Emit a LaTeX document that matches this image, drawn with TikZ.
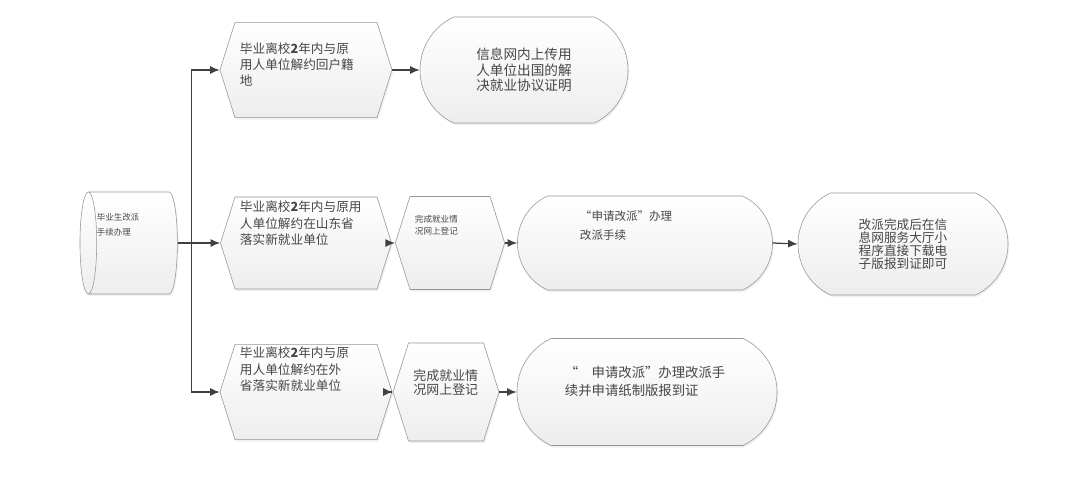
\documentclass[tikz,border=0pt]{standalone}
\usepackage{fontspec}
\usepackage{xcolor}
\usepackage{tikz}
\usetikzlibrary{shapes.geometric, shapes.symbols, shapes.misc, arrows.meta, shadows}
\newfontfamily\cjk{Noto Sans CJK SC}
\definecolor{boxline}{RGB}{150,150,150}
\definecolor{boxtext}{RGB}{70,70,70}

\begin{document}
\begin{tikzpicture}[
    x=0.025cm, y=-0.025cm,
    shaded/.style={draw=boxline, top color=white, bottom color=gray!14, drop shadow={opacity=0.12, shadow xshift=0.03cm, shadow yshift=-0.05cm}, text=boxtext},
    hexbox/.style={shaded, signal, signal to=east and west, signal pointer angle=145, inner xsep=0.125cm, inner ysep=0pt, align=left},
    termbox/.style={shaded, rounded rectangle, rounded rectangle arc length=130, inner sep=0pt},
    startbox/.style={shaded, cylinder, shape border rotate=180, aspect=0.18, inner sep=0pt, align=left},
    textpos/.style n args={3}{text width=#1, text height=#2, text depth=#3},
    flow/.style={-{Latex[length=2.4mm, width=2mm]}, draw=black!75, line width=0.9pt}
]
    \useasboundingbox (0,0) rectangle (1080,486);

    % Start
    \node[startbox, minimum width=2.55cm, minimum height=2.325cm, textpos={1.8cm}{0.6cm}{1.725cm},
          font=\cjk\fontsize{6}{10.7}\selectfont] (start) at (133,243) {毕业生改派\\手续办理};

    % Upper branch
    \node[hexbox, textpos={3.3cm}{0.78cm}{1.6cm}, font=\cjk\fontsize{9}{11.4}\selectfont]
        (back) at (306,70) {毕业离校\textbf{2}年内与原\\用人单位解约回户籍\\地};
    \node[termbox, minimum width=5.2cm, minimum height=2.65cm, align=center,
          font=\cjk\fontsize{9.7}{11}\selectfont]
        (backcert) at (524,70) {信息网内上传用\\人单位出国的解\\决就业协议证明};

    % Middle branch
    \node[hexbox, textpos={3.3cm}{0.375cm}{1.925cm}, font=\cjk\fontsize{9}{11.4}\selectfont]
        (sd) at (306,243) {毕业离校\textbf{2}年内与原用\\人单位解约在山东省\\落实新就业单位};
    \node[hexbox, textpos={1.75cm}{0.65cm}{1.675cm}, font=\cjk\fontsize{6.1}{8.5}\selectfont]
        (sdreg) at (450,243) {完成就业情\\况网上登记};
    \node[termbox, minimum width=6.375cm, textpos={3.25cm}{0.625cm}{1.725cm}, align=left,
          font=\cjk\fontsize{8.2}{13.5}\selectfont]
        (sdapply) at (645,243) {“申请改派”办理\\改派手续};
    \node[termbox, minimum width=5.25cm, minimum height=2.55cm, align=center,
          font=\cjk\fontsize{9}{9.4}\selectfont]
        (sddone) at (903,244) {改派完成后在信\\息网服务大厅小\\程序直接下载电\\子版报到证即可};

    % Lower branch
    \node[hexbox, textpos={3.3cm}{0.34cm}{2.04cm}, font=\cjk\fontsize{9}{11.4}\selectfont]
        (out) at (306,392) {毕业离校\textbf{2}年内与原\\用人单位解约在外\\省落实新就业单位};
    \node[hexbox, textpos={1.625cm}{0.95cm}{1.5cm}, font=\cjk\fontsize{9.2}{9.8}\selectfont]
        (outreg) at (446,392) {完成就业情\\况网上登记};
    \node[termbox, minimum width=6.5cm, textpos={4.1cm}{0.975cm}{1.7cm}, align=left,
          font=\cjk\fontsize{9.5}{12.8}\selectfont]
        (outapply) at (647,392) {“\quad 申请改派”办理改派手\\续并申请纸制版报到证};

    % Connectors
    \draw[flow] (start.east) -- ++(14,0) |- (back.west);
    \draw[flow] (start.east) -- (sd.west);
    \draw[flow] (start.east) -- ++(14,0) |- (out.west);
    \draw[flow] (back.east) -- (backcert.west);
    \draw[flow] (sd.east) -- (sdreg.west);
    \draw[flow] (sdreg.east) -- (sdapply.west);
    \draw[flow] (sdapply.east) -- (sddone.west);
    \draw[flow] (out.east) -- (outreg.west);
    \draw[flow] (outreg.east) -- (outapply.west);
\end{tikzpicture}
\end{document}
